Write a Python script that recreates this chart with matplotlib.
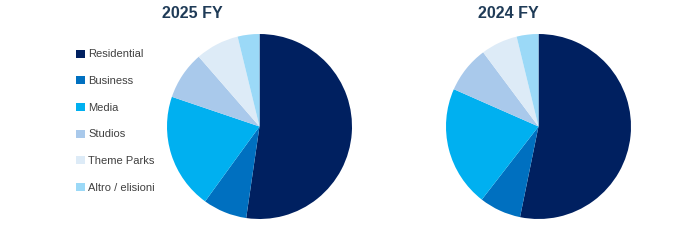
import numpy as np
import matplotlib.pyplot as plt

# Data (share of revenue, %)
labels = ['Residential', 'Business', 'Media', 'Studios', 'Theme Parks', 'Altro / elisioni']
fy2025 = [52.3, 7.7, 20.2, 8.4, 7.6, 3.8]
fy2024 = [53.2, 7.3, 21.1, 8.2, 6.4, 3.8]
titles = ['2025 FY', '2024 FY']
colors = ['#002060', '#0070C0', '#00B0F0', '#A9C9EB', '#DDEBF7', '#9BD9F7']

plt.rcParams['font.family'] = ['Liberation Sans', 'DejaVu Sans']

fig = plt.figure(figsize=(6.74, 2.44), dpi=100)

ax1 = fig.add_axes([167 / 674, 25 / 244, 185 / 674, 185 / 244])
ax2 = fig.add_axes([446 / 674, 25 / 244, 185 / 674, 185 / 244])

for ax, vals in zip([ax1, ax2], [fy2025, fy2024]):
    wedges, _ = ax.pie(vals, colors=colors, startangle=90, counterclock=False,
                       wedgeprops=dict(linewidth=0))
    ax.set_xlim(-1, 1)
    ax.set_ylim(-1, 1)
    ax.set_aspect('equal')

fig.text(192 / 674, 1 - 13 / 244, titles[0], ha='center', va='center',
         fontsize=11.5, fontweight='bold', color='#1F3B57')
fig.text(508 / 674, 1 - 13 / 244, titles[1], ha='center', va='center',
         fontsize=11.5, fontweight='bold', color='#1F3B57')

leg = fig.legend(wedges, labels, loc='upper left', bbox_to_anchor=(72 / 674, 1 - 45 / 244),
                 frameon=False, fontsize=8, handlelength=0.75, handleheight=0.75,
                 handletextpad=0.3, labelspacing=1.5, borderaxespad=0)
for t in leg.get_texts():
    t.set_color('#404040')

fig.savefig('out.png', dpi=100)
